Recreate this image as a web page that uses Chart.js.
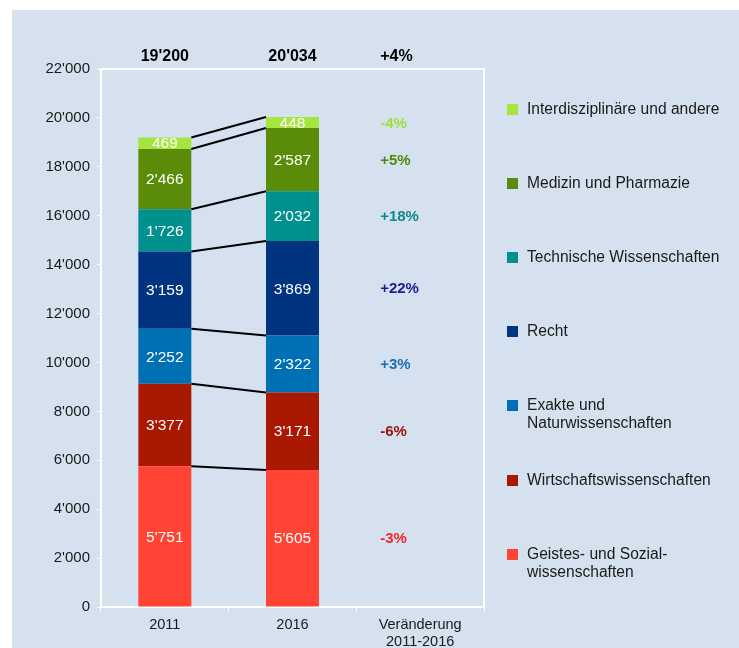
<!DOCTYPE html>
<html>
<head>
<meta charset="utf-8">
<script src="https://cdn.jsdelivr.net/npm/chart.js@4/dist/chart.umd.min.js"></script>
<style>
  html, body { margin: 0; padding: 0; background: #ffffff; }
  #wrap { position: relative; width: 739px; height: 648px; }
</style>
</head>
<body>
<div id="wrap"><canvas id="c" width="739" height="648"></canvas></div>
<script>
// ---- data ----
const categories = ['2011', '2016', ['Veränderung', '2011-2016']];
const seriesNames = [
  ['Geistes- und Sozial-', 'wissenschaften'],
  ['Wirtschaftswissenschaften'],
  ['Exakte und', 'Naturwissenschaften'],
  ['Recht'],
  ['Technische Wissenschaften'],
  ['Medizin und Pharmazie'],
  ['Interdisziplinäre und andere']
];
const geistes    = [5751, 5605];
const wirtschaft = [3377, 3171];
const exakte     = [2252, 2322];
const recht      = [3159, 3869];
const technische = [1726, 2032];
const medizin    = [2466, 2587];
const interdis   = [469, 448];
const changeLabels = ['-3%', '-6%', '+3%', '+22%', '+18%', '+5%', '-4%'];
const totalChange = '+4%';
const yTicksMax = 22000;
const yTickStep = 2000;

const seriesValues = [geistes, wirtschaft, exakte, recht, technische, medizin, interdis];
const seriesColors = ['#FF4436', '#A91800', '#0070B4', '#003380', '#00918F', '#5A8C0A', '#A6E43E'];
const changeColors = ['#F2262B', '#A01212', '#1F6EB5', '#1A1D96', '#11898A', '#4E8A10', '#9EE040'];

const FONT = '"Liberation Sans", Arial, Helvetica, sans-serif';
const fmt = v => String(Math.round(v)).replace(/\B(?=(\d{3})+(?!\d))/g, "'");

const datasets = seriesValues.map((vals, i) => ({
  label: seriesNames[i].join(' '),
  data: [vals[0], vals[1], null],
  backgroundColor: seriesColors[i],
  borderWidth: 0,
  barPercentage: 0.415,
  categoryPercentage: 1.0
}));

const bgPlugin = {
  id: 'bg',
  beforeDraw(chart) {
    const ctx = chart.ctx;
    ctx.save();
    ctx.fillStyle = '#ffffff';
    ctx.fillRect(0, 0, chart.width, chart.height);
    ctx.fillStyle = '#D5E1EE';
    ctx.fillRect(12, 10, chart.width - 12, chart.height - 10);
    ctx.restore();
  },
  beforeDatasetsDraw(chart) {
    const ctx = chart.ctx, a = chart.chartArea;
    ctx.save();
    ctx.strokeStyle = '#ffffff';
    ctx.lineWidth = 2;
    ctx.beginPath();
    ctx.moveTo(a.left, a.top);
    ctx.lineTo(a.right, a.top);
    ctx.lineTo(a.right, a.bottom);
    ctx.stroke();
    ctx.restore();
  }
};

const annoPlugin = {
  id: 'anno',
  afterDatasetsDraw(chart) {
    const ctx = chart.ctx, a = chart.chartArea;
    const xs = chart.scales.x;
    ctx.save();
    // connector lines between segment tops
    ctx.strokeStyle = '#000000';
    ctx.lineWidth = 2;
    chart.data.datasets.forEach((ds, i) => {
      const m = chart.getDatasetMeta(i);
      const e0 = m.data[0], e1 = m.data[1];
      ctx.beginPath();
      ctx.moveTo(e0.x + e0.width / 2, e0.y);
      ctx.lineTo(e1.x - e1.width / 2, e1.y);
      ctx.stroke();
    });
    // value labels inside segments
    ctx.fillStyle = '#ffffff';
    ctx.font = '15.5px ' + FONT;
    ctx.textAlign = 'center';
    ctx.textBaseline = 'middle';
    chart.data.datasets.forEach((ds, i) => {
      const m = chart.getDatasetMeta(i);
      [0, 1].forEach(j => {
        const e = m.data[j];
        ctx.fillText(fmt(ds.data[j]), e.x, (e.y + e.base) / 2 + 1);
      });
    });
    // totals on top
    ctx.fillStyle = '#000000';
    ctx.font = 'bold 16px ' + FONT;
    [0, 1].forEach(j => {
      const tot = seriesValues.reduce((s, v) => s + v[j], 0);
      ctx.fillText(fmt(tot), xs.getPixelForValue(j), a.top - 12);
    });
    const cx = xs.getPixelForValue(2) - 40;
    ctx.textAlign = 'left';
    ctx.fillText(totalChange, cx, a.top - 12);
    // change percentages at 2016 segment centres
    ctx.font = 'bold 15px ' + FONT;
    chart.data.datasets.forEach((ds, i) => {
      const e = chart.getDatasetMeta(i).data[1];
      ctx.fillStyle = changeColors[i];
      ctx.fillText(changeLabels[i], cx, (e.y + e.base) / 2 + 1);
    });
    // custom legend
    const lx = a.right + 23, tx = a.right + 43;
    const rowY = [555, 481, 406, 332, 258, 184, 110];
    ctx.font = '15.6px ' + FONT;
    ctx.textBaseline = 'middle';
    seriesNames.forEach((name, i) => {
      const y = rowY[i];
      ctx.fillStyle = seriesColors[i];
      ctx.fillRect(lx, y - 6, 11, 11);
      ctx.fillStyle = '#1a1a1a';
      name.forEach((line, k) => ctx.fillText(line, tx, y + k * 18));
    });
    ctx.restore();
  }
};

new Chart(document.getElementById('c'), {
  type: 'bar',
  data: { labels: categories, datasets },
  options: {
    responsive: false,
    animation: false,
    layout: { padding: { left: 0, top: 69, right: 255, bottom: 0 } },
    plugins: { legend: { display: false }, tooltip: { enabled: false } },
    scales: {
      x: {
        stacked: true,
        grid: { drawOnChartArea: false, color: '#ffffff', tickLength: 4, lineWidth: 1 },
        border: { color: '#ffffff', width: 2 },
        ticks: { color: '#1a1a1a', font: { family: FONT, size: 14.5, lineHeight: 1.15 }, padding: 6, maxRotation: 0 },
        afterFit(s) { s.height = 41; }
      },
      y: {
        stacked: true,
        min: 0,
        max: yTicksMax,
        grid: { drawOnChartArea: false, color: '#ffffff', tickLength: 4, lineWidth: 1 },
        border: { color: '#ffffff', width: 2 },
        ticks: { stepSize: yTickStep, color: '#1a1a1a', font: { family: FONT, size: 15 }, padding: 7, callback: v => fmt(v) },
        afterFit(s) { s.width = 101; }
      }
    }
  },
  plugins: [bgPlugin, annoPlugin]
});
</script>
</body>
</html>
